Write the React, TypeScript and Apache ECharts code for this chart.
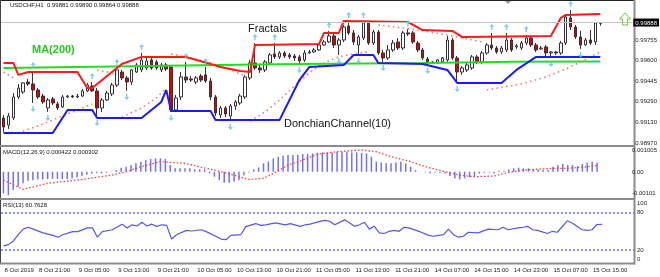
import React, { useEffect, useRef } from "react";
import * as echarts from "echarts";

const FONT = "Liberation Sans, Arial, sans-serif";
const SLOTS = 128;

const tickBars = [0, 7, 15, 23, 31, 39, 47, 55, 63, 71, 79, 87, 95, 103, 111, 119];
const tickLabels = [
  "8 Oct 2019", "8 Oct 21:00", "9 Oct 05:00", "9 Oct 13:00", "9 Oct 21:00",
  "10 Oct 05:00", "10 Oct 13:00", "10 Oct 21:00", "11 Oct 05:00", "11 Oct 13:00",
  "11 Oct 21:00", "14 Oct 07:00", "14 Oct 15:00", "14 Oct 23:00", "15 Oct 07:00", "15 Oct 15:00",
];

const priceTicks = [0.9897, 0.9913, 0.9929, 0.99445, 0.996, 0.99755];
const macdTicks = [0.001005, 0, -0.00101];
const macdTickLabels = ["0.001005", "0.00", "-0.00101"];
const rsiTicks = [0, 20, 80, 100];
const bidPrice = 0.99888;

// [open, close, low, high]
const candles: number[][] = [
  [0.99161, 0.99092, 0.99054, 0.99184], [0.99107, 0.99176, 0.99077, 0.99199], [0.99161, 0.99321, 0.99146, 0.99351],
  [0.99321, 0.99389, 0.99306, 0.9942], [0.99359, 0.99428, 0.99344, 0.99435], [0.99435, 0.9942, 0.99405, 0.99458],
  [0.9942, 0.99374, 0.99275, 0.99519], [0.99374, 0.99321, 0.99306, 0.99389], [0.99328, 0.99283, 0.99268, 0.99344],
  [0.99237, 0.99298, 0.99207, 0.99313], [0.99306, 0.99275, 0.9926, 0.99321], [0.99268, 0.99237, 0.99222, 0.99283],
  [0.99245, 0.99321, 0.99237, 0.99336], [0.99321, 0.99328, 0.99313, 0.99336], [0.99328, 0.99321, 0.99313, 0.99336],
  [0.99321, 0.99328, 0.99313, 0.99344], [0.99328, 0.99367, 0.99321, 0.99382], [0.99367, 0.99412, 0.99359, 0.99428],
  [0.99405, 0.99367, 0.99359, 0.99435], [0.99367, 0.99237, 0.99168, 0.99389], [0.99237, 0.99298, 0.99207, 0.99313],
  [0.99298, 0.99351, 0.9929, 0.99367], [0.99344, 0.99412, 0.99328, 0.99428], [0.99412, 0.99527, 0.99397, 0.99542],
  [0.99511, 0.99466, 0.9945, 0.99527], [0.99466, 0.99435, 0.99367, 0.99481], [0.99435, 0.99527, 0.99412, 0.99534],
  [0.99511, 0.99565, 0.99504, 0.9958], [0.99527, 0.99603, 0.99511, 0.99656], [0.99542, 0.99595, 0.99527, 0.99618],
  [0.99603, 0.99542, 0.99527, 0.99618], [0.99588, 0.99542, 0.99527, 0.99603], [0.99527, 0.99565, 0.99511, 0.9958],
  [0.99565, 0.99534, 0.99519, 0.9958], [0.99549, 0.99222, 0.99207, 0.99565], [0.99222, 0.99313, 0.99214, 0.99336],
  [0.99321, 0.99473, 0.99298, 0.99511], [0.99473, 0.9945, 0.99428, 0.99588], [0.99458, 0.9945, 0.99435, 0.99481],
  [0.99435, 0.99466, 0.9942, 0.99481], [0.99481, 0.9945, 0.99435, 0.99496], [0.99489, 0.99443, 0.99428, 0.99549],
  [0.99443, 0.99321, 0.99298, 0.99466], [0.99321, 0.99199, 0.99176, 0.99336], [0.99184, 0.99237, 0.99161, 0.99252],
  [0.99237, 0.99191, 0.99168, 0.99252], [0.99176, 0.99252, 0.99138, 0.99268], [0.99252, 0.99283, 0.99222, 0.99298],
  [0.99275, 0.99328, 0.9926, 0.99344], [0.99321, 0.99473, 0.99306, 0.99489], [0.99466, 0.9958, 0.9945, 0.99603],
  [0.9958, 0.99542, 0.99527, 0.99732], [0.99542, 0.99527, 0.99504, 0.99572], [0.99527, 0.99588, 0.99511, 0.99603],
  [0.9958, 0.99641, 0.99565, 0.99656], [0.99649, 0.99626, 0.9961, 0.99732], [0.99626, 0.99656, 0.9961, 0.99671],
  [0.99656, 0.99633, 0.99618, 0.99671], [0.99641, 0.99626, 0.9961, 0.99656], [0.99633, 0.99618, 0.99595, 0.99649],
  [0.99626, 0.99595, 0.99572, 0.99641], [0.99603, 0.99656, 0.99588, 0.99679], [0.99656, 0.99664, 0.99649, 0.99679],
  [0.99664, 0.99679, 0.99656, 0.99694], [0.99679, 0.99717, 0.99671, 0.99725], [0.99717, 0.9974, 0.9971, 0.99755],
  [0.9974, 0.99786, 0.99732, 0.99824], [0.99786, 0.99717, 0.99694, 0.99801], [0.99717, 0.99755, 0.99641, 0.9977],
  [0.99755, 0.99854, 0.9974, 0.9987], [0.99862, 0.99809, 0.99793, 0.999], [0.99809, 0.9974, 0.99717, 0.99831],
  [0.99717, 0.99778, 0.99641, 0.99793], [0.9977, 0.99885, 0.99755, 0.999], [0.99885, 0.99732, 0.99717, 0.99892],
  [0.99732, 0.99816, 0.99717, 0.99831], [0.99816, 0.99656, 0.99641, 0.99831], [0.99656, 0.99618, 0.99588, 0.99679],
  [0.99618, 0.99679, 0.99603, 0.99717], [0.99679, 0.99732, 0.99664, 0.99755], [0.9974, 0.99694, 0.99679, 0.9977],
  [0.99694, 0.99809, 0.99679, 0.99824], [0.99809, 0.99801, 0.99786, 0.99839], [0.99809, 0.9974, 0.99725, 0.99824],
  [0.99732, 0.99679, 0.99664, 0.99748], [0.99679, 0.99618, 0.99603, 0.99694], [0.9961, 0.9958, 0.99565, 0.99626],
  [0.9958, 0.99588, 0.99572, 0.99595], [0.9958, 0.99603, 0.99572, 0.9961], [0.99588, 0.99618, 0.9958, 0.99626],
  [0.99603, 0.99755, 0.99588, 0.99786], [0.99755, 0.99618, 0.99603, 0.9977], [0.99618, 0.99511, 0.99428, 0.99633],
  [0.99511, 0.99542, 0.99489, 0.99557], [0.99527, 0.99565, 0.99511, 0.9958], [0.99542, 0.99626, 0.99527, 0.99641],
  [0.99626, 0.99588, 0.99572, 0.99641], [0.99588, 0.99656, 0.99572, 0.99671], [0.99656, 0.99717, 0.99641, 0.99732],
  [0.99717, 0.99694, 0.99679, 0.99809], [0.99694, 0.99664, 0.99649, 0.9971], [0.99664, 0.99694, 0.99649, 0.9971],
  [0.99679, 0.99755, 0.99664, 0.99809], [0.99755, 0.99679, 0.99664, 0.9977], [0.99702, 0.9971, 0.99687, 0.99725],
  [0.99694, 0.99732, 0.99679, 0.99748], [0.99732, 0.9977, 0.99717, 0.99793], [0.9977, 0.99717, 0.99702, 0.99786],
  [0.99717, 0.99679, 0.99664, 0.99732], [0.99687, 0.99694, 0.99679, 0.9971], [0.99702, 0.99656, 0.99633, 0.99717],
  [0.99656, 0.99664, 0.99618, 0.99671], [0.99664, 0.99656, 0.99641, 0.99671], [0.99656, 0.99732, 0.99641, 0.99748],
  [0.99732, 0.9993, 0.99717, 0.99946], [0.99923, 0.99854, 0.99831, 0.99984], [0.99854, 0.99778, 0.99763, 0.9987],
  [0.99778, 0.99717, 0.99687, 0.99824], [0.99717, 0.99755, 0.9971, 0.9977], [0.99755, 0.99732, 0.99717, 0.99831],
  [0.9974, 0.99885, 0.99717, 0.99892], [0.99881, 0.99888, 0.99864, 0.9989],
];

// indicator vertices: [bar, value]
const donchianUpper = [
  [0, 0.9958], [2, 0.9958], [3, 0.99489], [5, 0.99511], [15, 0.99511], [17, 0.99389], [18, 0.99389],
  [20, 0.9945], [22, 0.99511], [24, 0.99572], [28, 0.99626], [37, 0.99626], [42, 0.99572], [44, 0.99549],
  [48, 0.99519], [50, 0.99511], [51, 0.99717], [64, 0.99725], [65, 0.99809], [68, 0.99809], [69, 0.999],
  [82, 0.99892], [85, 0.99831], [91, 0.99824], [93, 0.99778], [111, 0.99786], [113, 0.99923],
  [114, 0.99946], [121, 0.99953],
];
const donchianLower = [
  [0, 0.99047], [10, 0.99047], [13, 0.99222], [18, 0.99222], [19, 0.99161], [28, 0.99161], [32, 0.99283],
  [33, 0.99374], [34, 0.99214], [42, 0.99214], [43, 0.99146], [56, 0.99146], [60, 0.9945], [62, 0.99549],
  [69, 0.99565], [71, 0.99641], [75, 0.99641], [76, 0.9958], [85, 0.99572], [90, 0.99527], [92, 0.99428],
  [101, 0.99428], [104, 0.99527], [108, 0.99626], [121, 0.99626],
];
const ma200 = [[0, 0.99542], [44, 0.99565], [60, 0.99572], [85, 0.9958], [100, 0.99588], [121, 0.99592]];
const sarSegments = [
  [[0, 0.99511], [2, 0.99466]],
  [[3, 0.99047], [8, 0.99115], [13, 0.99191], [18, 0.99268]],
  [[19, 0.99527], [23, 0.99496]],
  [[24, 0.99168], [28, 0.99237], [31, 0.99313], [33, 0.99389]],
  [[34, 0.99649], [38, 0.99618], [42, 0.9958], [46, 0.99527], [49, 0.99481]],
  [[50, 0.99138], [53, 0.99207], [56, 0.99298], [59, 0.99405], [62, 0.99504], [65, 0.9958], [68, 0.99626], [71, 0.99649], [74, 0.99664]],
  [[76, 0.9987], [84, 0.99831], [90, 0.99793], [94, 0.99763], [97, 0.9974]],
  [[98, 0.99374], [105, 0.9942], [110, 0.99473], [114, 0.99534], [117, 0.99588], [121, 0.99664]],
];
const upFractalBars = [6, 18, 23, 28, 37, 41, 51, 55, 66, 70, 73, 82, 99, 102, 106, 115];
const downFractalBars = [6, 9, 19, 25, 34, 46, 60, 68, 72, 77, 86, 92, 111, 117];

const macdMain = [
  -0.00101, -0.00109, -0.00085, -0.0007, -0.00054, -0.00042, -0.00039, -0.00036, -0.00036, -0.00034,
  -0.00033, -0.00033, -0.00034, -0.00034, -0.00031, -0.00026, -0.0002, -0.00014, -0.00008, -0.00006,
  -0.00008, -0.00005, 0.00001, 0.00008, 0.00019, 0.00023, 0.00031, 0.00039, 0.00047, 0.00054,
  0.00059, 0.00062, 0.00062, 0.00059, 0.00031, 0.00016, 0.00016, 0.00016, 0.00016, 0.00012,
  0.00012, 0.00011, -0.00008, -0.00023, -0.00039, -0.00051, -0.00051, -0.00047, -0.00039, -0.00016,
  -0.00003, 0.00011, 0.0002, 0.00039, 0.00047, 0.00062, 0.0007, 0.00074, 0.00078, 0.00078,
  0.00079, 0.00082, 0.00082, 0.00085, 0.00088, 0.0009, 0.00088, 0.00088, 0.00093, 0.00093,
  0.00093, 0.0009, 0.0009, 0.00088, 0.00085, 0.0007, 0.00047, 0.00043, 0.00039, 0.00039,
  0.00043, 0.00047, 0.00039, 0.00023, 0.00008, 0.00001, -0.00003, -0.00008, -0.00003, -0.00005,
  -0.00008, -0.0002, -0.00031, -0.00036, -0.00031, -0.00026, -0.00023, -0.00008, -0.00005, -0.00003,
  -0.00008, 0.00005, 0.00005, 0.00011, 0.00016, 0.00019, 0.00016, 0.00016, 0.00011, 0.00011,
  0.00008, 0.00008, 0.00023, 0.00031, 0.00036, 0.00031, 0.00031, 0.00026, 0.00036, 0.00042,
  0.00047, 0.00042,
];
const macdSignal = [
  [0, -0.00039], [4, -0.00082], [9, -0.00054], [16, -0.00036], [22, -0.00016], [25, 0], [28, 0.00023],
  [32, 0.00047], [37, 0.00039], [40, 0.00023], [43, 0.00008], [47, -0.00016], [50, -0.00036],
  [53, -0.00031], [55, -0.00008], [58, 0.00031], [61, 0.00054], [64, 0.00082], [68, 0.00093],
  [73, 0.00101], [76, 0.00093], [79, 0.0007], [83, 0.00047], [86, 0.00023], [90, 0], [93, -0.00016],
  [96, -0.00023], [100, -0.0002], [102, -0.00008], [105, 0.00005], [108, 0.00011], [112, 0.00016],
  [115, 0.00016], [119, 0.00023], [121, 0.0003],
];
const rsi = [
  [0, 26], [1, 28], [2, 34], [3, 44], [4, 53], [5, 56], [6, 53], [8, 47], [10, 43], [11, 40], [12, 44],
  [14, 49], [15, 49], [17, 55], [18, 55], [19, 40], [20, 49], [22, 52], [24, 61], [25, 55], [26, 60],
  [27, 58], [28, 64], [29, 58], [30, 61], [31, 57.5], [32, 60], [33, 59], [34, 37], [35, 44], [37, 51],
  [38, 50], [40, 52], [41, 49], [43, 41], [44, 37], [45, 36], [46, 43], [48, 44], [49, 57], [51, 62],
  [52, 59], [53, 60], [55, 63], [57, 60], [58, 62], [60, 57.5], [61, 60], [62, 61], [64, 65.5], [65, 67],
  [66, 65.5], [67, 60], [69, 68], [70, 63], [71, 57.5], [72, 60], [73, 64], [74, 53], [75, 57.5], [76, 47],
  [77, 46], [78, 49.5], [79, 51], [80, 49.5], [81, 56], [82, 55], [84, 49.5], [86, 43], [87, 41.5],
  [88, 43], [89, 44], [90, 53], [91, 44], [92, 40], [93, 41.5], [94, 48], [96, 47], [98, 53], [100, 52],
  [101, 56], [102, 52], [104, 55], [105, 56], [106, 57.5], [107, 52], [108, 51], [110, 46], [111, 49.5],
  [112, 48], [114, 66.5], [115, 63], [117, 52], [118, 51], [119, 52], [120, 60.5], [121, 60.76],
];

const ARROW_UP = "path://M5,0 L10,5 L6.5,5 L6.5,10 L3.5,10 L3.5,5 L0,5 Z";
const ARROW_DOWN = "path://M5,10 L10,5 L6.5,5 L6.5,0 L3.5,0 L3.5,5 L0,5 Z";

export default function App() {
  const ref = useRef<HTMLDivElement>(null);
  useEffect(() => {
    document.body.style.margin = "0";
    const chart = echarts.init(ref.current!, null, { renderer: "svg" });
    const cats = Array.from({ length: SLOTS }, (_, i) => String(i));
    const grids = [
      { left: 1, top: 1, width: 633, height: 144 },
      { left: 1, top: 147, width: 633, height: 51 },
      { left: 1, top: 200, width: 633, height: 62 },
    ];
    const small = { fontSize: 6, color: "#222", fontFamily: FONT };
    const xAxes = grids.map((_, i) => ({
      type: "category",
      gridIndex: i,
      data: cats,
      boundaryGap: true,
      axisLine: { show: false },
      axisTick: { show: false },
      splitLine: { show: false },
      axisLabel:
        i === 2
          ? {
              ...small,
              show: true,
              interval: (idx: number) => tickBars.includes(idx),
              formatter: (v: string) => {
                const k = tickBars.indexOf(Number(v));
                return k >= 0 ? tickLabels[k] : "";
              },
              align: "left",
              margin: 5,
              hideOverlap: false,
              padding: [0, 0, 0, 1],
            }
          : { show: false },
    }));
    const baseY = {
      type: "value",
      position: "right",
      splitLine: { show: false },
      axisLine: { show: false },
      axisTick: { show: false },
    };
    const sarSeries = sarSegments.map((seg) => ({
      type: "line",
      xAxisIndex: 0,
      yAxisIndex: 0,
      data: seg,
      symbol: "none",
      lineStyle: { color: "#f07878", width: 1.6, type: [1.5, 3.4] },
      z: 3,
    }));
    const option: any = {
      animation: false,
      textStyle: { fontFamily: FONT },
      grid: grids,
      xAxis: xAxes,
      yAxis: [
        {
          ...baseY,
          gridIndex: 0,
          min: 0.98955,
          max: 1.00052,
          axisLabel: { ...small, customValues: priceTicks, formatter: (v: number) => v.toFixed(5), margin: 3 },
        },
        {
          ...baseY,
          gridIndex: 1,
          min: -0.00122,
          max: 0.00115,
          axisLabel: {
            ...small,
            customValues: macdTicks,
            margin: 3,
            formatter: (v: number) => {
              let best = 0;
              macdTicks.forEach((t, i) => {
                if (Math.abs(t - v) < Math.abs(macdTicks[best] - v)) best = i;
              });
              return macdTickLabels[best];
            },
          },
        },
        {
          ...baseY,
          gridIndex: 2,
          min: 0,
          max: 100,
          axisLabel: {
            ...small,
            customValues: rsiTicks,
            margin: 3,
            verticalAlignMinLabel: "bottom",
            verticalAlignMaxLabel: "top",
          },
        },
      ],
      series: [
        {
          type: "candlestick",
          xAxisIndex: 0,
          yAxisIndex: 0,
          data: candles,
          barWidth: 3,
          itemStyle: {
            color: "#ffffff",
            color0: "#dd0000",
            borderColor: "#333333",
            borderColor0: "#333333",
            borderWidth: 1,
          },
          markLine: {
            silent: true,
            symbol: "none",
            precision: 5,
            lineStyle: { color: "#c4c4c4", width: 1, type: "solid" },
            label: {
              show: true,
              position: "end",
              distance: 1,
              formatter: (p: any) => Number(p.value).toFixed(5),
              backgroundColor: "#000",
              color: "#fff",
              fontSize: 6,
              fontFamily: FONT,
              padding: [1, 2, 1, 2],
            },
            data: [{ yAxis: bidPrice }],
          },
          z: 2,
        },
        {
          type: "line",
          xAxisIndex: 0,
          yAxisIndex: 0,
          data: ma200,
          symbol: "none",
          lineStyle: { color: "#22dd22", width: 2 },
          z: 3,
        },
        {
          type: "line",
          xAxisIndex: 0,
          yAxisIndex: 0,
          data: donchianUpper,
          symbol: "none",
          lineStyle: { color: "#ff1a1a", width: 2 },
          z: 4,
        },
        {
          type: "line",
          xAxisIndex: 0,
          yAxisIndex: 0,
          data: donchianLower,
          symbol: "none",
          lineStyle: { color: "#1a1aff", width: 2 },
          z: 4,
        },
        ...sarSeries,
        {
          type: "scatter",
          xAxisIndex: 0,
          yAxisIndex: 0,
          data: upFractalBars.map((b) => [b, candles[b][3]]),
          symbol: ARROW_UP,
          symbolSize: [5, 6],
          symbolOffset: [0, -6],
          itemStyle: { color: "#5cc6da" },
          z: 5,
        },
        {
          type: "scatter",
          xAxisIndex: 0,
          yAxisIndex: 0,
          data: downFractalBars.map((b) => [b, candles[b][2]]),
          symbol: ARROW_DOWN,
          symbolSize: [5, 6],
          symbolOffset: [0, 6],
          itemStyle: { color: "#5cc6da" },
          z: 5,
        },
        {
          type: "bar",
          xAxisIndex: 1,
          yAxisIndex: 1,
          data: macdMain,
          barWidth: 1.5,
          itemStyle: { color: "#7070ff" },
        },
        {
          type: "line",
          xAxisIndex: 1,
          yAxisIndex: 1,
          data: macdSignal,
          symbol: "none",
          lineStyle: { color: "#ff3c3c", width: 1.3, type: [1.5, 2] },
          z: 3,
        },
        {
          type: "line",
          xAxisIndex: 2,
          yAxisIndex: 2,
          data: rsi,
          symbol: "none",
          lineStyle: { color: "#5656ee", width: 1.2 },
          markLine: {
            silent: true,
            symbol: "none",
            label: { show: false },
            lineStyle: { color: "#6a6aff", width: 1.5, type: [2, 2] },
            data: [{ yAxis: 80 }, { yAxis: 20 }],
          },
        },
      ],
      graphic: [
        { type: "line", shape: { x1: 0, y1: 0.5, x2: 635, y2: 0.5 }, style: { stroke: "#222", lineWidth: 1 } },
        { type: "line", shape: { x1: 0.5, y1: 0, x2: 0.5, y2: 264 }, style: { stroke: "#444", lineWidth: 1 } },
        { type: "line", shape: { x1: 0, y1: 146, x2: 635, y2: 146 }, style: { stroke: "#8c8c8c", lineWidth: 2 } },
        { type: "line", shape: { x1: 0, y1: 199, x2: 635, y2: 199 }, style: { stroke: "#8c8c8c", lineWidth: 2 } },
        { type: "line", shape: { x1: 0, y1: 263.5, x2: 635, y2: 263.5 }, style: { stroke: "#8c8c8c", lineWidth: 2 } },
        { type: "line", shape: { x1: 634.5, y1: 0, x2: 634.5, y2: 264.5 }, style: { stroke: "#8c8c8c", lineWidth: 2 } },
        { type: "polygon", shape: { points: [[505, 1], [511, 1], [508, 4]] }, style: { fill: "#9a9a9a" } },
        {
          type: "text",
          left: 10,
          top: 2,
          style: { text: "USDCHF,H1  0.99881 0.99890 0.99864 0.99888", fontSize: 6, fill: "#111", fontFamily: FONT },
        },
        {
          type: "text",
          left: 32,
          top: 43.5,
          style: { text: "MA(200)", fontSize: 11, fontWeight: "bold", fill: "#22cc22", fontFamily: FONT },
        },
        {
          type: "text",
          left: 248,
          top: 22.5,
          style: { text: "Fractals", fontSize: 11, fill: "#111", fontFamily: FONT },
        },
        {
          type: "text",
          left: 284,
          top: 117.5,
          style: { text: "DonchianChannel(10)", fontSize: 11, fill: "#111", fontFamily: FONT },
        },
        {
          type: "text",
          left: 3,
          top: 149,
          style: { text: "MACD(12,26,9) 0.000422 0.000302", fontSize: 6, fill: "#111", fontFamily: FONT },
        },
        {
          type: "text",
          left: 3,
          top: 201.5,
          style: { text: "RSI(13) 60.7628", fontSize: 6, fill: "#111", fontFamily: FONT },
        },
        {
          type: "polygon",
          shape: {
            points: [[625, 13], [630.5, 19], [627.5, 19], [627.5, 25], [622.5, 25], [622.5, 19], [619.5, 19]],
          },
          style: { fill: "#ffffff", stroke: "#66cc33", lineWidth: 1 },
        },
      ],
    };
    chart.setOption(option);
    return () => chart.dispose();
  }, []);
  return <div ref={ref} style={{ position: "fixed", left: 0, top: 0, width: 660, height: 277 }} />;
}
